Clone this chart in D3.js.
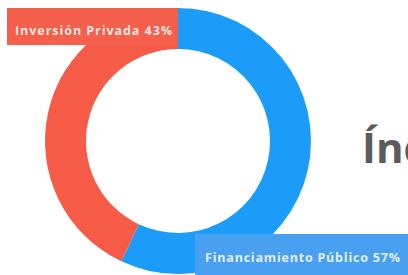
<!DOCTYPE html>
<html>
<head>
<meta charset="utf-8">
<script src="https://cdn.jsdelivr.net/npm/d3@7"></script>
<style>
  body { margin: 0; background: #fff; overflow: hidden; }
</style>
</head>
<body>
<div id="chart"></div>
<script>
// data
const categories = ["Financiamiento Público", "Inversión Privada"];
const shares = [57, 43];
const colors = ["#1b9cf8", "#f65b47"];
const labelColors = ["#4aa0f0", "#f4604b"];
const title = "Índice";

const width = 408, height = 275;
const cx = 178, cy = 141;
const outerR = 133, innerR = 92;

const svg = d3.select("#chart")
    .append("svg")
    .attr("width", width)
    .attr("height", height);

const pie = d3.pie().sort(null).value(d => d);
const arc = d3.arc().innerRadius(innerR).outerRadius(outerR);

svg.append("g")
    .attr("transform", "translate(" + cx + "," + cy + ")")
    .selectAll("path")
    .data(pie(shares))
    .enter()
    .append("path")
    .attr("d", arc)
    .style("fill", (d, i) => colors[i]);

// title, runs off the right edge like in the original
svg.append("text")
    .attr("x", 362)
    .attr("y", 163)
    .style("font-family", "'Open Sans', sans-serif")
    .style("font-weight", "bold")
    .style("font-size", "42px")
    .style("fill", "#5b5b5b")
    .text(title);

// label boxes
const boxes = [
    {x: 195, y: 234, w: 213, h: 41, tx: 205, ty: 262, tw: 195},
    {x: 7, y: 8, w: 170, h: 37, tx: 15, ty: 35, tw: 157}
];

boxes.forEach((b, i) => {
    svg.append("rect")
        .attr("x", b.x)
        .attr("y", b.y)
        .attr("width", b.w)
        .attr("height", b.h)
        .style("fill", labelColors[i]);
    svg.append("text")
        .attr("x", b.tx)
        .attr("y", b.ty)
        .attr("textLength", b.tw)
        .attr("lengthAdjust", "spacing")
        .style("font-family", "'Open Sans', sans-serif")
        .style("font-weight", "bold")
        .style("font-size", "12.5px")
        .style("fill", "#fff")
        .style("fill-opacity", 0.85)
        .text(categories[i] + " " + shares[i] + "%");
});
</script>
</body>
</html>
